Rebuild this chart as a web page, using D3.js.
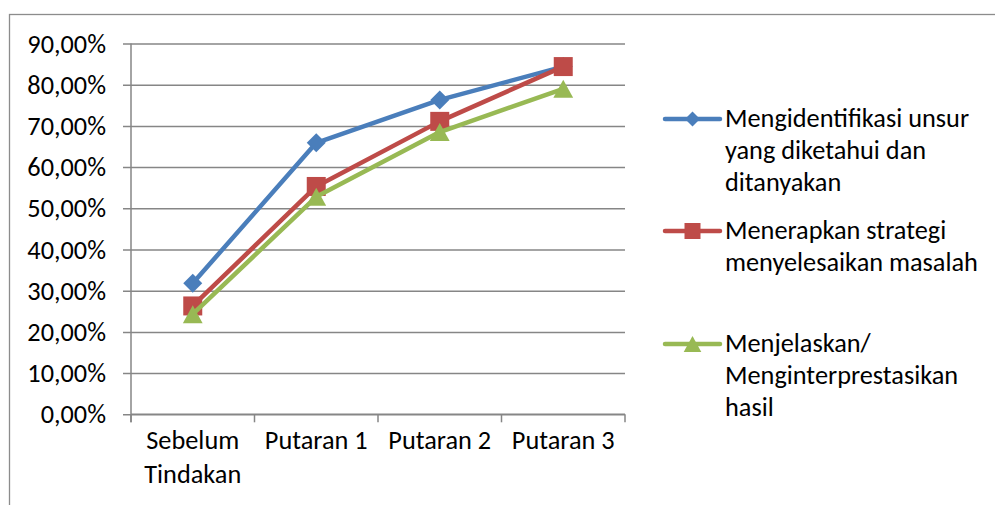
<!DOCTYPE html>
<html>
<head>
<meta charset="utf-8">
<script src="https://cdn.jsdelivr.net/npm/d3@7"></script>
<style>
  html, body { margin: 0; padding: 0; background: #fff; }
  svg { display: block; }
  text { font-family: Carlito, Calibri, "Open Sans", sans-serif; fill: #000; }
</style>
</head>
<body>
<script>
// Categories (x axis), with line breaks for wrapped labels
const categories = ["Sebelum Tindakan", "Putaran 1", "Putaran 2", "Putaran 3"];
const categoryLines = [["Sebelum", "Tindakan"], ["Putaran 1"], ["Putaran 2"], ["Putaran 3"]];

// Series values (fractions)
const seriesNames = [
  "Mengidentifikasi unsur yang diketahui dan ditanyakan",
  "Menerapkan strategi menyelesaikan masalah",
  "Menjelaskan/ Menginterprestasikan hasil"
];
const legendLines = [
  ["Mengidentifikasi unsur", "yang diketahui dan", "ditanyakan"],
  ["Menerapkan strategi", "menyelesaikan masalah"],
  ["Menjelaskan/", "Menginterprestasikan", "hasil"]
];
const identifikasi = [0.318, 0.659, 0.763, 0.844];
const strategi     = [0.263, 0.553, 0.711, 0.844];
const menjelaskan  = [0.243, 0.528, 0.685, 0.790];
const seriesValues = [identifikasi, strategi, menjelaskan];

// Y axis ticks
const yTicks = [0, 0.1, 0.2, 0.3, 0.4, 0.5, 0.6, 0.7, 0.8, 0.9];
const yTickLabels = ["0,00%", "10,00%", "20,00%", "30,00%", "40,00%", "50,00%", "60,00%", "70,00%", "80,00%", "90,00%"];

const colors = ["#4a7ebb", "#be4b48", "#98b954"];
const markers = ["diamond", "square", "triangle"];

const W = 995, H = 505;
const plot = { left: 131, right: 625, top: 43.5, bottom: 414.3 };
const fontSize = 26.3;

const svg = d3.select("body").append("svg").attr("width", W).attr("height", H);

// Chart area border (runs past the right and bottom edges)
svg.append("rect")
  .attr("x", 9.5).attr("y", 14.5)
  .attr("width", W + 20).attr("height", H + 20)
  .attr("fill", "none").attr("stroke", "#8c8c8c").attr("stroke-width", 1.3);

const x = d3.scaleBand().domain(categories).range([plot.left, plot.right]).paddingInner(0).paddingOuter(0);
const y = d3.scaleLinear().domain([0, 0.9]).range([plot.bottom, plot.top]);

// Horizontal gridlines with short tick marks on the left
const yAxis = d3.axisLeft(y).tickValues(yTicks)
  .tickSize(plot.right - plot.left + 8)
  .tickFormat((d, i) => yTickLabels[i]);
const gy = svg.append("g").attr("transform", `translate(${plot.right},0)`).call(yAxis);
gy.select(".domain").remove();
gy.selectAll(".tick line").attr("stroke", "#868686").attr("stroke-width", 1.5);
gy.selectAll(".tick text")
  .attr("x", -(plot.right - 106)).attr("dy", null).attr("y", 8.5)
  .attr("text-anchor", "end")
  .style("font-size", fontSize + "px");

// Vertical axis line
svg.append("line")
  .attr("x1", plot.left).attr("x2", plot.left)
  .attr("y1", plot.top).attr("y2", plot.bottom + 8)
  .attr("stroke", "#868686").attr("stroke-width", 1.5);

// Category axis with ticks at band boundaries
const boundaries = categories.map(c => x(c)).concat([plot.right]);
svg.append("line")
  .attr("x1", plot.left).attr("x2", plot.right)
  .attr("y1", plot.bottom).attr("y2", plot.bottom)
  .attr("stroke", "#868686").attr("stroke-width", 1.5);
svg.selectAll(".xtick").data(boundaries).enter().append("line")
  .attr("x1", d => d).attr("x2", d => d)
  .attr("y1", plot.bottom).attr("y2", plot.bottom + 8)
  .attr("stroke", "#868686").attr("stroke-width", 1.5);

const cx = c => x(c) + x.bandwidth() / 2;
categories.forEach((c, i) => {
  const t = svg.append("text")
    .attr("x", cx(c)).attr("y", 449)
    .attr("text-anchor", "middle")
    .style("font-size", fontSize + "px");
  categoryLines[i].forEach((ln, j) => {
    t.append("tspan").attr("x", cx(c)).attr("dy", j === 0 ? 0 : 34).text(ln);
  });
});

// Marker shapes
function markerPath(type, px, py, s) {
  const p = d3.path();
  if (type === "diamond") {
    p.moveTo(px, py - s); p.lineTo(px + s, py); p.lineTo(px, py + s); p.lineTo(px - s, py); p.closePath();
  } else if (type === "square") {
    p.rect(px - s, py - s, 2 * s, 2 * s);
  } else {
    p.moveTo(px, py - s); p.lineTo(px + s * 1.1, py + s); p.lineTo(px - s * 1.1, py + s); p.closePath();
  }
  return p.toString();
}
const markerSize = { diamond: 9.5, square: 9.5, triangle: 9 };

const line = d3.line().x((d, i) => cx(categories[i])).y(d => y(d));

seriesValues.forEach((vals, k) => {
  svg.append("path").datum(vals)
    .attr("d", line)
    .attr("fill", "none")
    .attr("stroke", colors[k]).attr("stroke-width", 4.5)
    .attr("stroke-linejoin", "round").attr("stroke-linecap", "round");
  svg.selectAll(".m" + k).data(vals).enter().append("path")
    .attr("d", (d, i) => markerPath(markers[k], cx(categories[i]), y(d), markerSize[markers[k]]))
    .attr("fill", colors[k]);
});

// Legend
const legendY = [119, 231, 344];
const baseY = [127, 238.5, 351.5];
seriesNames.forEach((name, k) => {
  const g = svg.append("g");
  g.append("line")
    .attr("x1", 665).attr("x2", 720)
    .attr("y1", legendY[k]).attr("y2", legendY[k])
    .attr("stroke", colors[k]).attr("stroke-width", 4.5).attr("stroke-linecap", "round");
  const ms = { diamond: 7.5, square: 8, triangle: 8 }[markers[k]];
  g.append("path").attr("d", markerPath(markers[k], 692.5, legendY[k], ms)).attr("fill", colors[k]);
  const t = g.append("text").attr("x", 725).attr("y", baseY[k]).style("font-size", fontSize + "px");
  legendLines[k].forEach((ln, j) => {
    t.append("tspan").attr("x", 725).attr("dy", j === 0 ? 0 : 32).text(ln);
  });
});
</script>
</body>
</html>
